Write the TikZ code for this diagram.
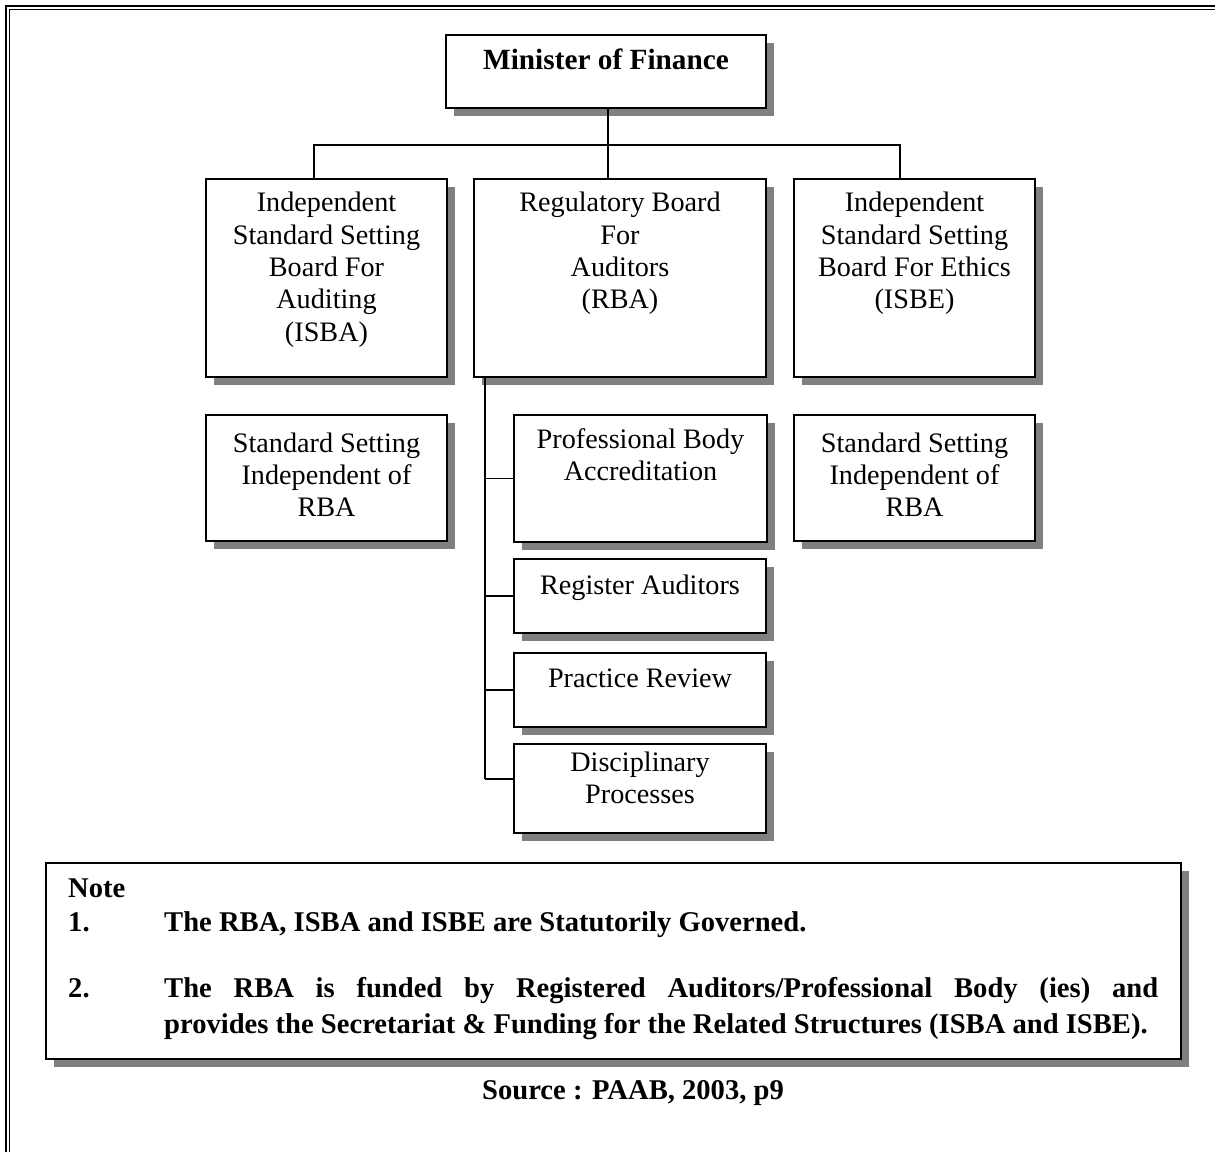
\documentclass[tikz,border=0pt]{standalone}
\usepackage{fontspec}
\setmainfont{Liberation Serif}
\usetikzlibrary{shadows,calc}
\begin{document}
\begin{tikzpicture}[x=1pt,y=-1pt,
  boxstyle/.style={draw=black, line width=1.7pt, fill=white, rectangle, inner sep=0pt,
     drop shadow={shadow xshift=8pt, shadow yshift=-8pt, fill=black!50, opacity=1, draw=none}},
  txt/.style={font=\fontsize{28.2}{32.3}\selectfont, align=center, inner sep=0pt, anchor=base},
  btxt/.style={font=\fontsize{28.6}{34}\selectfont\bfseries, inner sep=0pt, anchor=base west},
  conn/.style={line width=1.8pt},
  frameline/.style={line width=1.7pt}]
\useasboundingbox (0,0) rectangle (1215,1151);
% page frame
\draw[frameline] (5.8,1160) -- (5.8,5.8) -- (1225,5.8);
\draw[frameline] (9.4,1160) -- (9.4,9.4) -- (1225,9.4);
% boxes
\node[boxstyle, minimum width=320pt, minimum height=73pt] (mof) at (606,71.5) {};
\node[boxstyle, minimum width=241pt, minimum height=198pt] (isba) at (326.5,278) {};
\node[boxstyle, minimum width=292pt, minimum height=198pt] (rba) at (620,278) {};
\node[boxstyle, minimum width=241pt, minimum height=198pt] (isbe) at (914.5,278) {};
\node[boxstyle, minimum width=241pt, minimum height=126pt] (ssl) at (326.5,478) {};
\node[boxstyle, minimum width=241pt, minimum height=126pt] (ssr) at (914.5,478) {};
\node[boxstyle, minimum width=253pt, minimum height=127pt] (pba) at (640.5,478.5) {};
\node[boxstyle, minimum width=252pt, minimum height=74pt] (reg) at (640,596) {};
\node[boxstyle, minimum width=252pt, minimum height=74pt] (prac) at (640,690) {};
\node[boxstyle, minimum width=252pt, minimum height=89pt] (disc) at (640,788.5) {};
\node[boxstyle, minimum width=1135pt, minimum height=196pt] (note) at (613.5,961) {};
% box texts (anchor = baseline of last line)
\node[txt, font=\fontsize{29.3}{32.3}\selectfont\bfseries] (moft) at ($(mof.north)+(0,35)$) {Minister of Finance};
\node[txt] (isbat) at ($(isba.north)+(0,162.9)$) {Independent\\Standard Setting\\Board For\\Auditing\\(ISBA)};
\node[txt] (rbat) at ($(rba.north)+(0,130.6)$) {Regulatory Board\\For\\Auditors\\(RBA)};
\node[txt] (isbet) at ($(isbe.north)+(0,130.6)$) {Independent\\Standard Setting\\Board For Ethics\\(ISBE)};
\node[txt] (sslt) at ($(ssl.north)+(0,102.6)$) {Standard Setting\\Independent of\\RBA};
\node[txt] (ssrt) at ($(ssr.north)+(0,102.6)$) {Standard Setting\\Independent of\\RBA};
\node[txt] (pbat) at ($(pba.north)+(0,66.3)$) {Professional Body\\Accreditation};
\node[txt] (regt) at ($(reg.north)+(0,36)$) {Register Auditors};
\node[txt] (pract) at ($(prac.north)+(0,35)$) {Practice Review};
\node[txt] (disct) at ($(disc.north)+(0,60.3)$) {Disciplinary\\Processes};
% connectors
\coordinate (bar) at (608,145);
\draw[conn] (bar |- mof.south) -- (bar |- rba.north);
\draw[conn] ([xshift=-12.5pt]isba.north) |- (bar) -| ([xshift=-14.5pt]isbe.north);
\coordinate (spinetop) at ([xshift=12pt]rba.south west);
\coordinate (spineend) at ([yshift=9.5pt]disc.west -| spinetop);
\draw[conn] (spinetop) -- (spineend);
\draw[conn] (spinetop |- pba.west) -- (pba.west);
\draw[conn] (spinetop |- reg.west) -- (reg.west);
\draw[conn] (spinetop |- prac.west) -- (prac.west);
\draw[conn] (spineend) -- ([yshift=9.5pt]disc.west);
% note texts
\node[btxt] (nh) at (68,897) {Note};
\node[btxt] (n1) at (68,931) {1.};
\node[btxt] (t1) at (164,931) {The RBA, ISBA and ISBE are Statutorily Governed.};
\node[btxt] (n2) at (68,997) {2.};
\node[btxt] (t2a) at (164,997) {\makebox[994pt][s]{The RBA is funded by Registered Auditors/Professional Body (ies) and}};
\node[btxt] (t2b) at (164,1033) {provides the Secretariat \& Funding for the Related Structures (ISBA and ISBE).};
\node[btxt, anchor=base] (src) at (633,1099) {Source : PAAB, 2003, p9};
\end{tikzpicture}
\end{document}
